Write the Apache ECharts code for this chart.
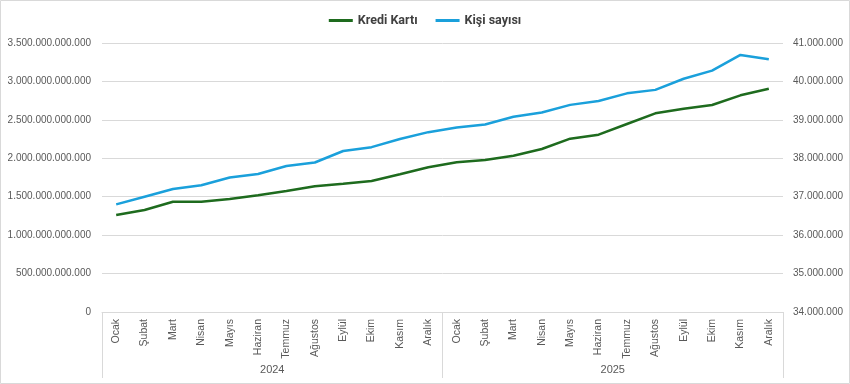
<!DOCTYPE html>
<html>
<head>
<meta charset="utf-8">
<script src="https://cdn.jsdelivr.net/npm/echarts@6/dist/echarts.min.js"></script>
<style>
html,body{margin:0;padding:0;background:#fff;}
#c{width:850px;height:384px;}
</style>
</head>
<body>
<div id="c"></div>
<script>
const months = ['Ocak','Şubat','Mart','Nisan','Mayıs','Haziran','Temmuz','Ağustos','Eylül','Ekim','Kasım','Aralık'];
const years = ['2024','2025'];
const categories = [].concat(months, months);
const krediKarti = [1.262e12,1.327e12,1.435e12,1.435e12,1.470e12,1.518e12,1.574e12,1.635e12,1.669e12,1.704e12,1.792e12,1.883e12,
                    1.948e12,1.978e12,2.034e12,2.121e12,2.255e12,2.307e12,2.446e12,2.585e12,2.645e12,2.693e12,2.819e12,2.905e12];
const kisiSayisi = [36.80e6,37.00e6,37.20e6,37.30e6,37.50e6,37.59e6,37.80e6,37.89e6,38.19e6,38.29e6,38.50e6,38.68e6,
                    38.80e6,38.88e6,39.08e6,39.19e6,39.39e6,39.49e6,39.69e6,39.78e6,40.07e6,40.28e6,40.69e6,40.58e6];

function fmt(v){ return String(Math.round(v)).replace(/\B(?=(\d{3})+(?!\d))/g,'.'); }

const chart = echarts.init(document.getElementById('c'));
const lab = {color:'#595959', fontSize:10, fontFamily:'Liberation Sans'};
chart.setOption({
  animation:false,
  graphic:[{type:'rect', shape:{x:0.5,y:0.5,width:849,height:383}, style:{fill:'none', stroke:'#d9d9d9', lineWidth:1}, silent:true}],
  legend:{
    top:9, left:'center', itemGap:18, itemWidth:24, itemHeight:3, icon:'rect',
    textStyle:{color:'#404040', fontSize:12.5, fontWeight:'bold', fontFamily:'Roboto'},
    data:['Kredi Kartı','Kişi sayısı']
  },
  grid:{left:102, right:67, top:43, bottom:72, containLabel:false, outerBoundsMode:'none'},
  xAxis:[
    {type:'category', data:categories, boundaryGap:true,
     axisLine:{show:true, lineStyle:{color:'#d9d9d9'}}, axisTick:{show:false},
     axisLabel:Object.assign({rotate:90, interval:0, margin:7}, lab, {fontSize:10.5})},
    {type:'category', data:years, position:'bottom', boundaryGap:true,
     axisLine:{show:false},
     axisTick:{show:true, length:66, lineStyle:{color:'#d9d9d9'}},
     axisLabel:Object.assign({margin:52}, lab, {fontSize:11})}
  ],
  yAxis:[
    {type:'value', min:0, max:3.5e12, interval:5e11,
     axisLine:{show:false}, axisTick:{show:false},
     splitLine:{lineStyle:{color:'#d9d9d9'}},
     axisLabel:Object.assign({margin:11, formatter:fmt}, lab)},
    {type:'value', min:34e6, max:41e6, interval:1e6, position:'right',
     axisLine:{show:false}, axisTick:{show:false}, splitLine:{show:false},
     axisLabel:Object.assign({margin:10, formatter:fmt}, lab)}
  ],
  series:[
    {name:'Kredi Kartı', type:'line', data:krediKarti, xAxisIndex:0, yAxisIndex:0,
     symbol:'none', lineStyle:{color:'#1e6b1e', width:2.5}, itemStyle:{color:'#1e6b1e'}},
    {name:'Kişi sayısı', type:'line', data:kisiSayisi, xAxisIndex:0, yAxisIndex:1,
     symbol:'none', lineStyle:{color:'#1aa0db', width:2.5}, itemStyle:{color:'#1aa0db'}}
  ]
});
</script>
</body>
</html>
